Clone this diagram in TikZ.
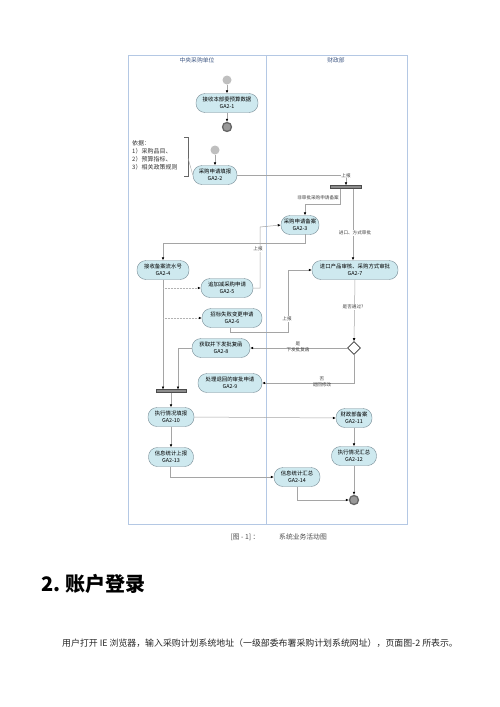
\documentclass[tikz,border=0pt]{standalone}
\usepackage{fontspec}
\setmainfont{Noto Sans CJK SC}
\usetikzlibrary{arrows.meta, shapes.geometric}
\definecolor{actfill}{RGB}{206,233,239}
\definecolor{actline}{RGB}{120,140,150}
\definecolor{lanecol}{RGB}{180,200,228}
\definecolor{linegray}{RGB}{165,165,165}
\definecolor{headcol}{RGB}{60,85,130}
\tikzset{
  act/.style={draw=actline, fill=actfill, rounded corners=9pt, minimum height=19pt,
    inner sep=1pt, align=center, font=\fontsize{5.4}{6.6}\selectfont},
  startpt/.style={circle, fill=black!25, minimum size=9pt, inner sep=0pt},
  endpt/.style={circle, fill=black!40, draw=black!60, line width=1.3pt, minimum size=9pt, inner sep=0pt},
  forkbar/.style={rectangle, fill=black!45, draw=black!70, line width=0.3pt, minimum height=3pt, inner sep=0pt},
  flow/.style={draw=linegray, line width=0.5pt, -{Latex[length=3pt,width=2.6pt,color=black]}},
  lbl/.style={font=\fontsize{4.6}{5.6}\selectfont, text=black!75, fill=white, inner sep=0.6pt, align=center}
}
\begin{document}
\begin{tikzpicture}[x=1pt, y=-1pt]
  %tikz  attivita', due corsie
  \useasboundingbox[fill=white] (0,0) rectangle (500,707);

  % corsie
  \draw[lanecol, line width=0.6pt] (128,55) rectangle (407,524);
  \draw[lanecol, line width=0.6pt] (266,55) -- (266,524);
  \node[text=headcol, font=\fontsize{5.8}{7}\selectfont] (lane1) at (197,60) {中央采购单位};
  \node[text=headcol, font=\fontsize{5.8}{7}\selectfont] (lane2) at (336,60) {财政部};

  % nodi
  \node[startpt] (s1) at (227,80) {};
  \node[act, minimum width=62pt] (a1) at (227,103) {接收本部委预算数据\\GA2-1};
  \node[endpt] (e1) at (227,127) {};
  \node[startpt] (s2) at (215,150) {};
  \node[act, minimum width=44pt] (a2) at (215,175) {采购申请填报\\GA2-2};
  \node[forkbar, minimum width=31pt] (bar1) at (346,187) {};
  \node[act, minimum width=38pt] (a3) at (300,225) {采购申请备案\\GA2-3};
  \node[act, minimum width=86pt] (a7) at (355,270) {进口产品审核、采购方式审批\\GA2-7};
  \node[act, minimum width=52pt] (a4) at (163,270) {接收备案流水号\\GA2-4};
  \node[act, minimum width=52pt] (a5) at (227,288) {追加减采购申请\\GA2-5};
  \node[act, minimum width=60pt] (a6) at (232,318) {招标失败变更申请\\GA2-6};
  \node[act, minimum width=58pt] (a8) at (221,348) {获取并下发批复函\\GA2-8};
  \node[diamond, draw=black!80, fill=white, line width=0.6pt, minimum size=13pt, inner sep=0pt] (dec) at (354,348) {};
  \node[act, minimum width=64pt] (a9) at (230,383) {处理退回的审批申请\\GA2-9};
  \node[forkbar, minimum width=30pt] (bar2) at (171,391) {};
  \node[act, minimum width=46pt] (a10) at (171,417) {执行情况填报\\GA2-10};
  \node[act, minimum width=36pt] (a11) at (354,418) {财政部备案\\GA2-11};
  \node[act, minimum width=45pt] (a12) at (354,456) {执行情况汇总\\GA2-12};
  \node[act, minimum width=45pt] (a13) at (171,457) {信息统计上报\\GA2-13};
  \node[act, minimum width=46pt] (a14) at (297,477) {信息统计汇总\\GA2-14};
  \node[endpt] (e2) at (354,500) {};

  % nota
  \node[anchor=north west, inner sep=0pt, align=left, font=\fontsize{6}{8}\selectfont, text=black!80] (note) at (132,140.5)
    {依据：\\1）采购品目、\\2）预算指标、\\3）相关政策规则};
  \draw[black!60, line width=0.5pt] (184,137) -- (188,137) -- (188,176) -- (184,176);
  \coordinate (brk) at (188,158);
  \draw[linegray, line width=0.4pt] (brk) -- (a2.west);

  % punti di uscita
  \coordinate (b1l) at (340,188.5);
  \coordinate (b1r) at (353,188.5);
  \coordinate (b2l) at (163,389.5);
  \coordinate (b2r) at (178,389.5);
  \coordinate (a3o) at (305,234);
  \coordinate (a6o) at (230,327.5);
  \coordinate (a13o) at (170,466.5);

  % connettori
  \draw[flow] (s1) -- (a1);
  \draw[flow] (a1) -- (e1);
  \draw[flow] (s2) -- (a2);
  \draw[flow] (a2.east) -| node[lbl, pos=0.52] {上报} (bar1.north);
  \draw[flow] (b1l) -- (340,204) -- (305,204) -- (a3.north -| 305,0);
  \node[lbl] (l1) at (318,198) {非审批采购申请备案};
  \draw[flow] (b1r) -- (a7.north -| b1r);
  \node[lbl] (l2) at (355,233) {进口、方式审批};
  \draw[flow] (a3o) |- (163,243) -- (a4.north);
  \draw[flow] (a5.east) -- (260,288) -- (260,227) -- (a3.west);
  \node[lbl] (l3) at (258,249) {上报};
  \draw[flow] (a4.south) -- (b2l);
  \draw[flow, densely dotted, draw=black!30] (163,288) -- (a5.west);
  \draw[flow, densely dotted, draw=black!30] (163,318) -- (a6.west);
  \draw[flow] (a6o) -- (230,332) -- (288,332) -- (288,270) -- (a7.west);
  \node[lbl] (l4) at (287,319) {上报};
  \draw[flow] (a7.south) -- (dec.north);
  \node[lbl] (l5) at (353,307) {是否通过?};
  \draw[flow] (dec.west) -- (a8.east);
  \node[lbl, fill=none] (l6) at (298,347) {是\\下发批复函};
  \draw[flow] (dec.south) |- (a9.east);
  \node[lbl, fill=none] (l7) at (322,382) {否\\退回修改};
  \draw[flow] (a8.west) -| (b2r);
  \draw[flow] (bar2) -- (a10);
  \draw[flow] (a10.east) -- (a11.west);
  \draw[flow] (a10) -- (a13);
  \draw[flow] (a11) -- (a12);
  \draw[flow] (a12) -- (e2);
  \draw[flow] (a13o) |- (a14.west);
  \draw[flow] (a14.south) |- (e2.west);

  % didascalia e testo
  \node[text=black!70, font=\fontsize{6.8}{8}\selectfont] (cap1) at (245,537) {[图 - 1] ：};
  \node[text=black!70, font=\fontsize{6.8}{8}\selectfont] (cap2) at (303,537) {系统业务活动图};
  \node[anchor=west, font=\bfseries\fontsize{20}{24}\selectfont] (head) at (38,584) {2.~账户登录};
  \node[anchor=west, inner sep=0pt, font=\fontsize{8.9}{10}\selectfont, text=black!85] (body) at (62,643)
    {用户打开 IE 浏览器，输入采购计划系统地址（一级部委布署采购计划系统网址），页面图-2 所表示。};
\end{tikzpicture}
\end{document}
